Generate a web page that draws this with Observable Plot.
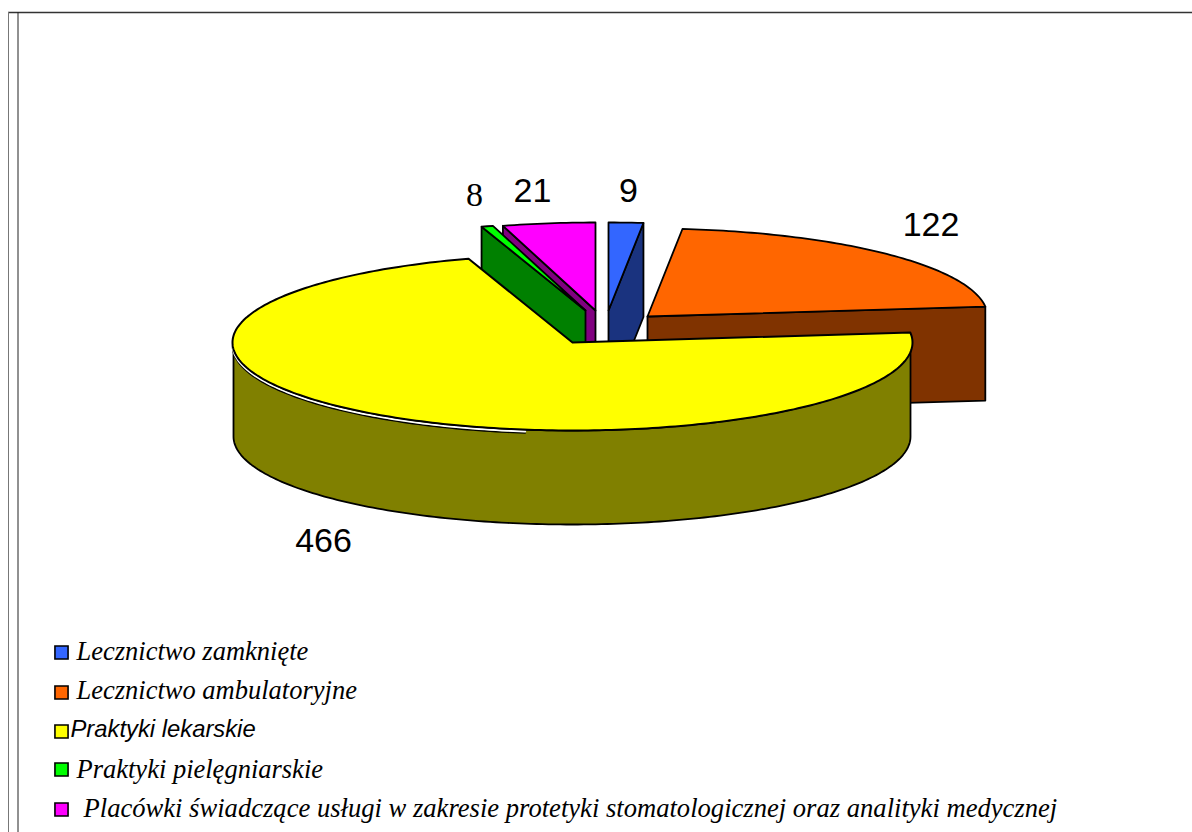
<!DOCTYPE html>
<html lang="pl">
<head>
<meta charset="utf-8">
<style>html,body{margin:0;padding:0;background:#fff;overflow:hidden}svg{display:block}</style>
<script src="https://cdn.jsdelivr.net/npm/d3@7"></script>
<script src="https://cdn.jsdelivr.net/npm/@observablehq/plot@0.6"></script>
</head>
<body>
<script>
// Chart values, clockwise from 12 o'clock
const categories = ["Lecznictwo zamknięte", "Lecznictwo ambulatoryjne", "Praktyki lekarskie", "Praktyki pielęgniarskie", "Placówki świadczące usługi w zakresie protetyki stomatologicznej oraz analityki medycznej"];
const values = [9, 122, 466, 8, 21];
const topColors = ["#3366FF", "#FF6600", "#FFFF00", "#00FF00", "#FF00FF"];
const sideColors = ["#1A337F", "#803300", "#808000", "#008000", "#800080"];

// 3-D pie projection settings
const W = 1192, H = 832;
const rx = 340, ry = 88, depth = 94;
const apexX = [608, 647, 572, 585, 595];
const apexY = [310, 316, 342, 310, 310];
// The original's perspective bends the slice edges: value angle -> drawn angle
const drawnEdges = [0, 5.9, 83.5, 342.2, 344.2, 360];

const total = d3.sum(values);
const cum = [0, ...d3.cumsum(values)].map(v => v / total * 360);
const warp = d3.scaleLinear().domain(cum).range(drawnEdges);

const rad = d => d * Math.PI / 180;
const rim = (i, deg, dy = 0) => ({
  x: apexX[i] + rx * Math.sin(rad(deg)),
  y: apexY[i] - ry * Math.cos(rad(deg)) + dy
});
const arc = (i, a, b, dy = 0) => {
  const n = Math.max(1, Math.ceil(Math.abs(b - a)));
  return d3.range(n + 1).map(k => rim(i, a + (b - a) * k / n, dy));
};
const apex = (i, dy = 0) => ({x: apexX[i], y: apexY[i] + dy});
const start = i => warp(cum[i]), end = i => warp(cum[i + 1]);

const topFace = i => [apex(i), ...arc(i, start(i), end(i))];
const cutWall = (i, deg) => [apex(i), rim(i, deg), rim(i, deg, depth), apex(i, depth)];
// the drum wall sits a hair inside the top face
const narrow = p => ({x: apexX[2] - 0.5 + (p.x - apexX[2]) * 338.5 / rx, y: p.y});
const outerWall = (i, a, b) => [...arc(i, a, b), ...arc(i, b, a, depth)].map(narrow);

const poly = (pts, fill, strokeWidth = 1.8) => Plot.line(pts, {
  x: "x", y: "y", fill, stroke: "#000", strokeWidth,
  curve: "linear-closed", strokeLinejoin: "round"
});
const edge = (pts, stroke, strokeWidth) => Plot.line(pts, {x: "x", y: "y", stroke, strokeWidth});

// Data labels
const dataLabels = values.map(String);
const labelX = [628, 930.5, 323, 474, 532];
const labelY = [191, 225, 541, 195, 191];
const labelFont = ["Liberation Sans", "Liberation Sans", "Liberation Sans", "Liberation Serif", "Liberation Sans"];
const labelRows = values.map((v, i) => ({t: dataLabels[i], x: labelX[i], y: labelY[i], f: labelFont[i]}));

// Legend
const legendY = [652, 692, 731, 769, 809];
const legendTextX = [76, 76, 70, 76, 83];
const legendTextY = [651, 690, 729, 769, 808];
const legendFont = ["Liberation Serif", "Liberation Serif", "Liberation Sans", "Liberation Serif", "Liberation Serif"];
const legendSize = [26.5, 26.5, 23.8, 26.5, 26.6];
const legendRows = categories.map((name, i) => ({
  name, y: legendY[i], ty: legendTextY[i], tx: legendTextX[i], color: topColors[i], font: legendFont[i], size: legendSize[i]
}));

const chart = Plot.plot({
  width: W, height: H,
  marginTop: 0, marginRight: 0, marginBottom: 0, marginLeft: 0,
  x: {domain: [0, W], range: [0, W], axis: null},
  y: {domain: [0, H], range: [0, H], axis: null},
  style: {background: "#fff"},
  marks: [
    // frame of the page
    Plot.ruleY([12], {x1: 8, x2: W, stroke: "#333", strokeWidth: 1.4}),
    Plot.ruleX([8], {y1: 12, y2: H, stroke: "#777", strokeWidth: 1}),
    Plot.ruleX([17.5], {y1: 12, y2: H, stroke: "#222", strokeWidth: 1}),
    // back slices, painter's order
    poly(cutWall(4, start(4)), sideColors[4]),
    poly(topFace(4), topColors[4]),
    poly(cutWall(3, start(3)), sideColors[3]),
    poly(topFace(3), topColors[3]),
    poly(cutWall(0, end(0)), sideColors[0]),
    poly(topFace(0), topColors[0]),
    poly(cutWall(1, end(1)), sideColors[1]),
    poly(topFace(1), topColors[1]),
    // main slice
    poly(outerWall(2, 90, 270), sideColors[2]),
    // thin white seam along the front-left rim
    edge(arc(2, 188, 270, 3.4), "#000", 1.6),
    edge(arc(2, 188, 270, 1.8), "#fff", 2),
    poly(topFace(2), topColors[2], 2),
    // data labels
    ...labelFont.map((f, i) => Plot.text([labelRows[i]], {
      x: "x", y: "y", text: "t", fontFamily: f, fontSize: 34, fill: "#000", textAnchor: "middle"
    })),
    // legend
    Plot.dot(legendRows, {x: () => 61, y: "y", symbol: "square", r: 7.4, fill: "color", stroke: "#000", strokeWidth: 1.6}),
    ...legendRows.map(r => Plot.text([r], {
      x: "tx", y: "ty", text: "name", fontFamily: r.font, fontSize: r.size, fontStyle: "italic",
      fill: "#000", textAnchor: "start", lineWidth: Infinity
    }))
  ]
});
document.body.appendChild(chart);
</script>
</body>
</html>
